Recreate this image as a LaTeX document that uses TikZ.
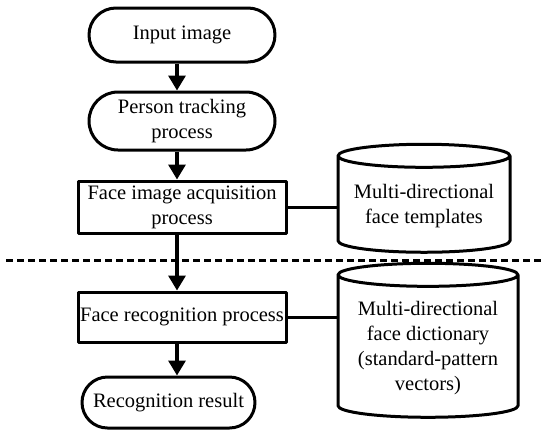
\documentclass[tikz,border=0pt]{standalone}
\usepackage{fontspec}
\setmainfont{Liberation Serif}
\usetikzlibrary{arrows.meta,shapes.misc,shapes.geometric}
\begin{document}
\begin{tikzpicture}[x=1pt,y=1pt,>={Triangle[width=17pt,length=15pt]},
	font=\fontsize{20.5}{25}\selectfont, line join=round,
	box/.style={draw,align=center,line width=3pt,inner sep=2pt},
	term/.style={box,rounded rectangle,minimum width=190pt},
	proc/.style={box,rectangle,minimum width=208pt},
	store/.style={box,cylinder,shape border rotate=90,aspect=0.16},
	flow/.style={->,line width=3.2pt},
	link/.style={line width=3pt}]
	\useasboundingbox (0,0) rectangle (545,-432);
	\def\xc{182}% column of the flow
	\def\dx{-5pt}% arrows sit a little left of centre
	% flow column
	\node[term,minimum height=54pt] (input) at (\xc,-35) {Input image};
	\node[term,minimum height=58pt] (track) at (\xc,-121) {Person tracking\\process};
	\node[proc,minimum height=52pt] (acq) at (\xc,-207) {Face image acquisition\\process};
	\node[proc,minimum height=50pt] (recog) at (\xc,-317) {Face recognition process};
	\node[term,minimum width=177pt,minimum height=51pt] (result) at (168.5,-402.5) {Recognition result};
	% stores
	\node[store,minimum width=172pt,minimum height=108pt] (tmpl) at (424,-206) {Multi-directional\\face templates};
	\node[store,minimum width=180pt,minimum height=154pt] (dict) at (428,-348) {Multi-directional\\face dictionary\\(standard-pattern\\vectors)};
	% separator
	\draw[line width=2.6pt,dash pattern=on 7pt off 4pt] (6,-260.5)--(545,-260.5);
	\draw[flow] ([xshift=\dx]input.south)--([xshift=\dx]track.north);
	\draw[flow] ([xshift=\dx]track.south)--([xshift=\dx]acq.north);
	\draw[flow] ([xshift=\dx]acq.south)--([xshift=\dx]recog.north);
	\draw[flow] ([xshift=\dx]recog.south)--([xshift=\dx]recog.south |- result.north);
	\draw[link] (acq.east)--(acq.east -| tmpl.west);
	\draw[link] (recog.east)--(recog.east -| dict.west);
\end{tikzpicture}
\end{document}
